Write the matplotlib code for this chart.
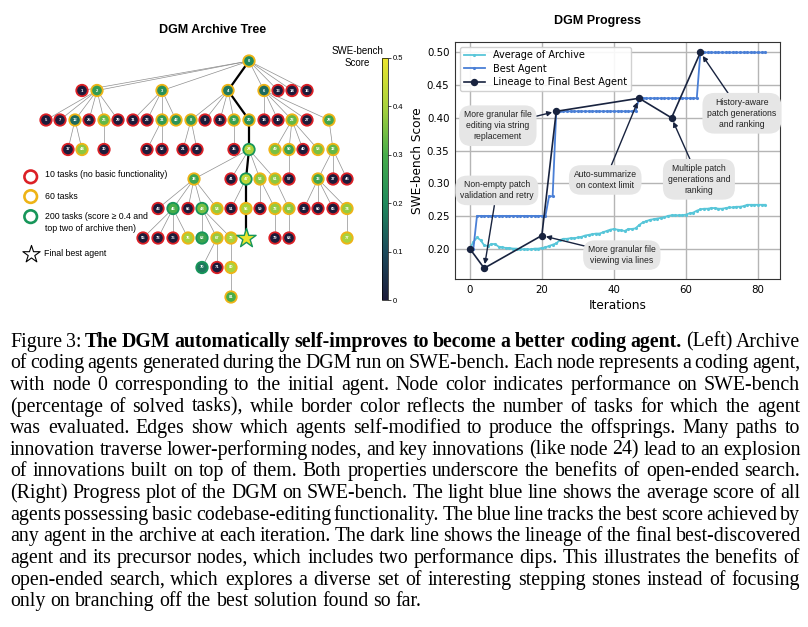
import numpy as np
import matplotlib
matplotlib.use("Agg")
import matplotlib.pyplot as plt
from matplotlib.colors import LinearSegmentedColormap, Normalize
from matplotlib.cm import ScalarMappable

# ---------------- progress plot data ----------------
iterations = list(range(83))
avg_archive = [
    0.200, 0.210, 0.217, 0.213, 0.205, 0.204, 0.207, 0.207, 0.203, 0.202,
    0.201, 0.201, 0.200, 0.200, 0.199, 0.199, 0.199, 0.199, 0.200, 0.200,
    0.201, 0.202, 0.204, 0.206, 0.208, 0.213, 0.215, 0.215, 0.216, 0.216,
    0.217, 0.218, 0.220, 0.221, 0.222, 0.223, 0.223, 0.225, 0.227, 0.229,
    0.230, 0.229, 0.228, 0.227, 0.230, 0.230, 0.231, 0.236, 0.240, 0.242,
    0.244, 0.245, 0.246, 0.247, 0.248, 0.250, 0.251, 0.251, 0.251, 0.251,
    0.252, 0.254, 0.255, 0.258, 0.260, 0.261, 0.261, 0.262, 0.262, 0.261,
    0.261, 0.262, 0.263, 0.263, 0.264, 0.264, 0.265, 0.267, 0.267, 0.267,
    0.267, 0.267, 0.267,
]
best_agent = [
    0.20, 0.20, 0.25, 0.25, 0.25, 0.25, 0.25, 0.25, 0.25, 0.25,
    0.25, 0.25, 0.25, 0.25, 0.25, 0.25, 0.25, 0.25, 0.25, 0.25,
    0.25, 0.25, 0.28, 0.28, 0.41, 0.41, 0.41, 0.41, 0.41, 0.41,
    0.41, 0.41, 0.41, 0.41, 0.41, 0.41, 0.41, 0.41, 0.41, 0.41,
    0.41, 0.41, 0.41, 0.41, 0.41, 0.41, 0.41, 0.43, 0.43, 0.43,
    0.43, 0.43, 0.43, 0.43, 0.43, 0.43, 0.43, 0.43, 0.43, 0.43,
    0.43, 0.43, 0.43, 0.43, 0.50, 0.50, 0.50, 0.50, 0.50, 0.50,
    0.50, 0.50, 0.50, 0.50, 0.50, 0.50, 0.50, 0.50, 0.50, 0.50,
    0.50, 0.50, 0.50,
]
lineage_iter = [0, 4, 20, 24, 47, 56, 64]
lineage_score = [0.20, 0.17, 0.22, 0.41, 0.43, 0.40, 0.50]

# annotation text, lineage point it points to, box centre (iteration, score)
ann_text = [
    "Non-empty patch\nvalidation and retry",
    "More granular file\nviewing via lines",
    "More granular file\nediting via string\nreplacement",
    "Auto-summarize\non context limit",
    "Multiple patch\ngenerations and\nranking",
    "History-aware\npatch generations\nand ranking",
]
ann_target = [1, 2, 3, 4, 5, 6]
ann_box_x = [7.5, 42.2, 7.8, 37.6, 63.6, 75.5]
ann_box_y = [0.289, 0.190, 0.388, 0.305, 0.306, 0.407]

# ---------------- archive tree data ----------------
# id, parent, depth, layout x, score, tasks evaluated
node_id = [0,
           1, 2, 3, 4, 6, 13, 14, 16,
           5, 7, 12, 25, 26, 29, 11, 23, 31, 42, 8, 9, 15, 19, 20, 18, 10, 22, 27, 28,
           17, 44, 30, 39, 52, 21, 34, 35, 24, 49, 50, 40, 58, 32,
           38, 41, 47, 53, 61, 57, 33, 37, 45,
           43, 46, 66, 48, 54, 51, 56, 59, 72, 63, 36, 60, 65, 74,
           55, 73, 75, 76, 62, 67, 78, 64, 79, 68, 77,
           70, 71, 80,
           81]
node_parent = [None,
               0, 0, 0, 0, 0, 0, 0, 0,
               2, 2, 2, 2, 2, 2, 3, 3, 3, 3, 4, 4, 4, 4, 4, 6, 6, 6, 6, 6,
               12, 12, 26, 31, 31, 8, 8, 19, 20, 22, 22, 22, 22, 28,
               24, 24, 24, 24, 24, 50, 32, 32, 32,
               38, 38, 38, 38, 38, 47, 47, 53, 53, 61, 33, 33, 33, 33,
               46, 46, 46, 46, 48, 48, 48, 56, 72, 63, 74,
               67, 67, 78,
               80]
node_depth = [0,
              1, 1, 1, 1, 1, 1, 1, 1,
              2, 2, 2, 2, 2, 2, 2, 2, 2, 2, 2, 2, 2, 2, 2, 2, 2, 2, 2, 2,
              3, 3, 3, 3, 3, 3, 3, 3, 3, 3, 3, 3, 3, 3,
              4, 4, 4, 4, 4, 4, 4, 4, 4,
              5, 5, 5, 5, 5, 5, 5, 5, 5, 5, 5, 5, 5, 5,
              6, 6, 6, 6, 6, 6, 6, 6, 6, 6, 6,
              7, 7, 7,
              8]
node_x = [249,
          82, 97, 162, 228, 264, 278, 292, 307,
          46, 60, 75, 89, 104, 118, 133, 147, 162, 176, 191, 205, 220, 234, 249, 264, 278, 292, 307, 329,
          68, 82, 104, 147, 162, 183, 197, 234, 249, 275, 289, 303, 318, 333,
          194, 231, 246, 260, 275, 289, 318, 333, 347,
          158, 173, 188, 202, 217, 231, 246, 260, 275, 289, 304, 318, 333, 347,
          143, 158, 173, 188, 202, 217, 231, 246, 275, 289, 347,
          202, 217, 231,
          231]
node_score = [0.20,
              0.0, 0.25, 0.22, 0.17, 0.15, 0.0, 0.0, 0.0,
              0.0, 0.0, 0.15, 0.0, 0.33, 0.0, 0.0, 0.0, 0.25, 0.23, 0.25, 0.0, 0.0, 0.27, 0.22, 0.0, 0.0, 0.33, 0.0, 0.28,
              0.0, 0.37, 0.0, 0.0, 0.0, 0.0, 0.0, 0.0, 0.41, 0.35, 0.27, 0.0, 0.35, 0.33,
              0.28, 0.0, 0.43, 0.37, 0.37, 0.0, 0.28, 0.0, 0.0,
              0.0, 0.30, 0.0, 0.35, 0.38, 0.0, 0.40, 0.0, 0.38, 0.37, 0.0, 0.0, 0.0, 0.38,
              0.0, 0.0, 0.0, 0.40, 0.27, 0.38, 0.40, 0.50, 0.0, 0.0, 0.40,
              0.17, 0.0, 0.40,
              0.30]
node_tasks = [60,
              10, 60, 60, 60, 60, 10, 10, 10,
              10, 10, 60, 10, 60, 10, 10, 10, 60, 60, 60, 10, 10, 60, 60, 10, 10, 60, 10, 60,
              10, 60, 10, 10, 10, 10, 10, 10, 200, 60, 60, 10, 60, 60,
              60, 10, 200, 60, 60, 10, 60, 10, 10,
              10, 200, 10, 200, 60, 10, 60, 10, 60, 60, 10, 10, 10, 60,
              10, 10, 10, 60, 200, 60, 60, 200, 10, 10, 60,
              200, 10, 60,
              60]
lineage_nodes = [0, 4, 20, 24, 47, 56, 64]
final_node = 64

task_colors = {10: "#dc2026", 60: "#eeb416", 200: "#17965a"}
task_labels = {10: "10 tasks (no basic functionality)",
               60: "60 tasks",
               200: "200 tasks (score \u2265 0.4 and\ntop two of archive then)"}

swe_cmap = LinearSegmentedColormap.from_list(
    "swe", ["#1c1b3a", "#1c4b5c", "#1f8a5c", "#47ad4a", "#a9d23c", "#ece52c"])
norm = Normalize(0, 0.5)

W, H = 808, 627
fig = plt.figure(figsize=(W / 100, H / 100), dpi=100)

# ---------------- left: archive tree ----------------
tree_ax = fig.add_axes([0, 0.5, 0.5, 0.5])
tree_ax.set_xlim(0, 404)
row_px = 29.5
tree_ax.set_ylim((313.5 - 61) / row_px, -61 / row_px)
tree_ax.axis("off")

pos = {n: (x, d) for n, x, d in zip(node_id, node_x, node_depth)}
lineage_edges = set(zip(lineage_nodes[:-1], lineage_nodes[1:]))
for n, p in zip(node_id, node_parent):
    if p is None:
        continue
    on_path = (p, n) in lineage_edges
    tree_ax.plot([pos[p][0], pos[n][0]], [pos[p][1], pos[n][1]],
                 color="black" if on_path else "#8f8f8f",
                 lw=1.6 if on_path else 0.5, zorder=2 if on_path else 1)

plain = [i for i, n in enumerate(node_id) if n != final_node]
tree_ax.scatter([node_x[i] for i in plain], [node_depth[i] for i in plain],
                c=[node_score[i] for i in plain], cmap=swe_cmap, norm=norm, s=68,
                edgecolors=[task_colors[node_tasks[i]] for i in plain],
                linewidths=1.3, zorder=3)
for i in plain:
    tree_ax.text(node_x[i], node_depth[i], str(node_id[i]), color="white",
                 fontsize=3.0, ha="center", va="center", zorder=4,
                 family="Liberation Sans", fontweight="bold")
fi = node_id.index(final_node)
tree_ax.scatter([node_x[fi]], [node_depth[fi]], marker="*", s=210,
                c=[node_score[fi]], cmap=swe_cmap, norm=norm,
                edgecolors=task_colors[node_tasks[fi]], linewidths=1.0, zorder=4)

# key for border colours
key_y = [0.436, 0.373, 0.309]
key_text_y = [0.442, 0.373, 0.291]
for t, ky, ty in zip([10, 60, 200], key_y, key_text_y):
    tree_ax.scatter([0.076], [ky], transform=tree_ax.transAxes, s=82,
                    facecolors="none", edgecolors=task_colors[t], linewidths=1.9,
                    clip_on=False)
    tree_ax.text(0.1114, ty, task_labels[t], transform=tree_ax.transAxes,
                 fontsize=6.3, va="center", ha="left", family="Liberation Sans",
                 linespacing=1.45)
tree_ax.scatter([0.076], [0.19], transform=tree_ax.transAxes, marker="*", s=170,
                facecolors="white", edgecolors="black", linewidths=0.8, clip_on=False)
tree_ax.text(0.109, 0.19, "Final best agent", transform=tree_ax.transAxes,
             fontsize=6.3, va="center", ha="left", family="Liberation Sans")

fig.text(212.5 / W, 1 - 30 / H, "DGM Archive Tree", ha="center", va="center",
         fontsize=9, fontweight="bold", family="Liberation Sans")

cax = fig.add_axes([382 / W, (H - 300) / H, 6 / W, 242 / H])
cb = fig.colorbar(ScalarMappable(norm=norm, cmap=swe_cmap), cax=cax)
cb.set_ticks([0, 0.1, 0.2, 0.3, 0.4, 0.5])
cb.set_ticklabels(["0", "0.1", "0.2", "0.3", "0.4", "0.5"])
cb.ax.tick_params(labelsize=5.5, length=2, width=0.5, pad=1.5)
cb.outline.set_linewidth(0.5)
for lab in cb.ax.get_yticklabels():
    lab.set_family("Liberation Sans")
fig.text(357 / W, 1 - 56.7 / H, "SWE-bench\nScore", ha="center", va="center",
         fontsize=7, family="Liberation Sans", linespacing=1.25)

# ---------------- right: progress ----------------
ax = fig.add_axes([455 / W, (H - 279) / H, 325 / W, 237.3 / H])
ax.plot(iterations, avg_archive, color="#58c6d9", lw=1.3, marker=".", ms=2.5,
        label="Average of Archive", zorder=2)
ax.plot(iterations, best_agent, color="#4a7fd6", lw=1.3, marker=".", ms=2.5,
        label="Best Agent", zorder=3)
ax.plot(lineage_iter, lineage_score, color="#18233f", lw=1.2, marker="o", ms=4.3,
        label="Lineage to Final Best Agent", zorder=4)

for txt, ti, bx, by in zip(ann_text, ann_target, ann_box_x, ann_box_y):
    ax.annotate(txt, xy=(lineage_iter[ti], lineage_score[ti]), xytext=(bx, by),
                ha="center", va="center", fontsize=6.2, family="Liberation Sans",
                color="#222222", linespacing=1.3, zorder=5,
                bbox=dict(boxstyle="round,pad=0.55,rounding_size=1.4",
                          fc="#e6e6e6", ec="none"),
                arrowprops=dict(arrowstyle="-|>", color="#18233f", lw=1.0,
                                mutation_scale=7, shrinkA=0, shrinkB=3))

ax.grid(True, color="#b5b5b5", lw=1.0)
ax.set_axisbelow(True)
ax.tick_params(labelsize=7.4, length=0, pad=4)
ax.set_xlabel("Iterations", fontsize=8.7, labelpad=3)
ax.set_ylabel("SWE-bench Score", fontsize=8.7, labelpad=2)
for s in ax.spines.values():
    s.set_color("#333333")
    s.set_linewidth(0.8)
ax.legend(loc="upper left", fontsize=7, framealpha=0.9, edgecolor="#cccccc",
          handlelength=2.2, borderpad=0.4, labelspacing=0.35)
fig.text(598 / W, 1 - 20.7 / H, "DGM Progress", ha="center", va="center",
         fontsize=9, fontweight="bold", family="Liberation Sans")

# ---------------- caption ----------------
caption_lines = [
    "Figure 3: **The DGM automatically self-improves to become a better coding agent.** (Left) Archive",
    "of coding agents generated during the DGM run on SWE-bench. Each node represents a coding agent,",
    "with node 0 corresponding to the initial agent. Node color indicates performance on SWE-bench",
    "(percentage of solved tasks), while border color reflects the number of tasks for which the agent",
    "was evaluated. Edges show which agents self-modified to produce the offsprings. Many paths to",
    "innovation traverse lower-performing nodes, and key innovations (like node 24) lead to an explosion",
    "of innovations built on top of them. Both properties underscore the benefits of open-ended search.",
    "(Right) Progress plot of the DGM on SWE-bench. The light blue line shows the average score of all",
    "agents possessing basic codebase-editing functionality. The blue line tracks the best score achieved by",
    "any agent in the archive at each iteration. The dark line shows the lineage of the final best-discovered",
    "agent and its precursor nodes, which includes two performance dips. This illustrates the benefits of",
    "open-ended search, which explores a diverse set of interesting stepping stones instead of focusing",
    "only on branching off the best solution found so far.",
]


def parse_words(line):
    out = []
    bold = False
    for tok in line.split():
        if tok.startswith("**"):
            bold = True
            tok = tok[2:]
        end = tok.endswith("**")
        if end:
            tok = tok[:-2]
        out.append((tok, bold))
        if end:
            bold = False
    return out


def justify_caption(lines, left, right, first_base, step, max_size):
    renderer = fig.canvas.get_renderer()
    px_per_pt = fig.dpi / 72
    parsed = [parse_words(l) for l in lines]
    # measure every word at size 10, then pick the largest size that fits
    widths = []
    for words in parsed:
        ws = []
        for w, b in words:
            t = fig.text(0, 0, w, fontsize=10, family="Liberation Serif",
                         fontweight="bold" if b else "normal")
            ws.append(t.get_window_extent(renderer).width)
            t.remove()
        widths.append(ws)
    size = max_size
    for ws in widths[:-1]:
        s = (right - left) / (sum(ws) / 10 + (len(ws) - 1) * 0.17 * px_per_pt)
        size = min(size, s)
    space = 0.25 * size * px_per_pt
    for i, (words, ws) in enumerate(zip(parsed, widths)):
        ws = [w * size / 10 for w in ws]
        if i < len(lines) - 1:
            gap = (right - left - sum(ws)) / (len(ws) - 1)
        else:
            gap = space
        x = left
        yb = first_base + i * step
        for (w, b), wd in zip(words, ws):
            fig.text(x / W, 1 - yb / H, w, fontsize=size, family="Liberation Serif",
                     fontweight="bold" if b else "normal", ha="left", va="baseline")
            x += wd + gap


justify_caption(caption_lines, 10, 800, 346.7, 21.62, 14.3)

fig.savefig("out.png", dpi=100)
